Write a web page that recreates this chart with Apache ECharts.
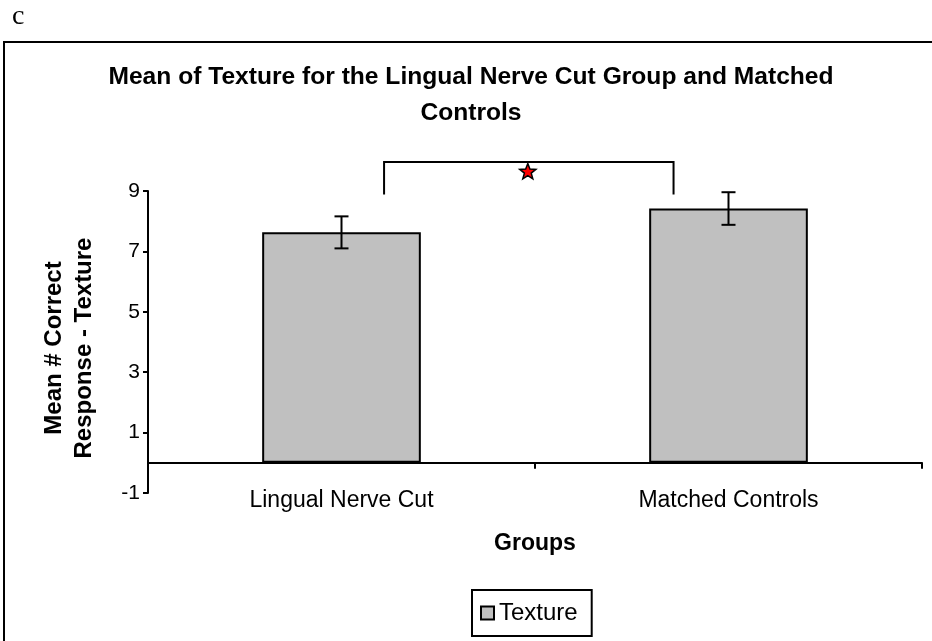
<!DOCTYPE html>
<html>
<head>
<meta charset="utf-8">
<script src="https://cdn.jsdelivr.net/npm/echarts@6/dist/echarts.min.js"></script>
<style>
  html, body { margin: 0; padding: 0; background: #fff; }
  #chart { width: 932px; height: 641px; }
</style>
</head>
<body>
<div id="chart"></div>
<script>
// data
var groups = ['Lingual Nerve Cut', 'Matched Controls'];
var texture = [7.63, 8.42];
var textureErr = [0.53, 0.54];
var yMin = -1, yMax = 9, yStep = 2;
// significance bracket: between group 0 and 1, top and foot heights
var bracket = [0, 1, 9.96, 8.88];

var FONT = "'Liberation Sans', Arial, sans-serif";

var chart = echarts.init(document.getElementById('chart'));

// error bars
var errData = texture.map(function (v, i) { return [i, v - textureErr[i], v + textureErr[i]]; });

function renderErr(params, api) {
    var lo = api.coord([api.value(0), api.value(1)]);
    var hi = api.coord([api.value(0), api.value(2)]);
    var cap = 7;
    var st = { stroke: '#000', lineWidth: 2 };
    return {
        type: 'group',
        children: [
            { type: 'line', shape: { x1: hi[0], y1: hi[1], x2: lo[0], y2: lo[1] }, style: st },
            { type: 'line', shape: { x1: hi[0] - cap, y1: hi[1], x2: hi[0] + cap, y2: hi[1] }, style: st },
            { type: 'line', shape: { x1: lo[0] - cap, y1: lo[1], x2: lo[0] + cap, y2: lo[1] }, style: st }
        ]
    };
}

function starPoints(cx, cy, R, r) {
    var pts = [];
    for (var k = 0; k < 10; k++) {
        var a = -Math.PI / 2 + k * Math.PI / 5;
        var rad = k % 2 ? r : R;
        pts.push([cx + rad * Math.cos(a), cy + rad * Math.sin(a)]);
    }
    return pts;
}

function renderBracket(params, api) {
    var w = api.size([1, 0])[0];
    var a = api.coord([api.value(0), api.value(2)]);
    var b = api.coord([api.value(1), api.value(2)]);
    var foot = api.coord([api.value(0), api.value(3)]);
    var x1 = a[0] + w * 0.11, x2 = b[0] - w * 0.142;
    var yTop = a[1], yFoot = foot[1];
    var mx = (x1 + x2) / 2;
    return {
        type: 'group',
        children: [
            { type: 'polyline', shape: { points: [[x1, yFoot], [x1, yTop], [x2, yTop], [x2, yFoot]] },
              style: { stroke: '#000', lineWidth: 2, fill: null } },
            { type: 'polygon', shape: { points: starPoints(mx - 1, yTop + 10, 8.5, 3.6) },
              style: { fill: '#ff0000', stroke: '#000', lineWidth: 1.5 } }
        ]
    };
}

chart.setOption({
    backgroundColor: '#fff',
    animation: false,
    textStyle: { fontFamily: FONT },
    graphic: [
        { type: 'rect', shape: { x: 4, y: 42, width: 1000, height: 700 },
          style: { fill: null, stroke: '#000', lineWidth: 2 }, silent: true },
        { type: 'text', x: 12, y: 3,
          style: { text: 'c', font: "28px 'Liberation Serif', 'Times New Roman', serif", fill: '#000' } },
        { type: 'text', x: 471, y: 59,
          style: {
              text: 'Mean of Texture for the Lingual Nerve Cut Group and Matched\nControls',
              font: 'bold 24.6px ' + FONT,
              lineHeight: 36,
              align: 'center',
              fill: '#000'
          } }
    ],
    legend: {
        data: ['Texture'],
        bottom: 5,
        left: 472,
        icon: 'rect',
        itemWidth: 13,
        itemHeight: 13,
        itemGap: 8,
        padding: [11, 14, 11, 8],
        borderColor: '#000',
        borderWidth: 2,
        textStyle: { fontFamily: FONT, fontSize: 24, color: '#000' }
    },
    grid: { left: 148, right: 10, top: 191, bottom: 148 },
    xAxis: {
        type: 'category',
        data: groups,
        name: 'Groups',
        nameLocation: 'middle',
        nameGap: 39,
        nameTextStyle: { fontFamily: FONT, fontSize: 23, fontWeight: 'bold', color: '#000' },
        axisLine: { onZero: true, lineStyle: { color: '#000', width: 2 } },
        axisTick: { show: true, length: 6, lineStyle: { color: '#000', width: 2 } },
        axisLabel: { margin: -4, fontFamily: FONT, fontSize: 23, color: '#000' }
    },
    yAxis: {
        type: 'value',
        min: yMin,
        max: yMax,
        interval: yStep,
        name: 'Mean # Correct\nResponse - Texture',
        nameLocation: 'middle',
        nameRotate: 90,
        nameGap: 49,
        nameTextStyle: { fontFamily: FONT, fontSize: 24, fontWeight: 'bold', color: '#000', lineHeight: 30, padding: [0, 12, 0, 0] },
        axisLine: { show: true, lineStyle: { color: '#000', width: 2 } },
        axisTick: { show: true, length: 5, lineStyle: { color: '#000', width: 2 } },
        axisLabel: { margin: 8, fontFamily: FONT, fontSize: 21, color: '#000' },
        splitLine: { show: false }
    },
    series: [
        {
            name: 'Texture',
            type: 'bar',
            data: texture,
            barWidth: '41%',
            itemStyle: { color: '#c0c0c0', borderColor: '#000', borderWidth: 2 }
        },
        {
            type: 'custom',
            data: errData,
            renderItem: renderErr,
            z: 5
        },
        {
            type: 'custom',
            data: [bracket],
            renderItem: renderBracket,
            clip: false,
            z: 5
        }
    ]
});
</script>
</body>
</html>
